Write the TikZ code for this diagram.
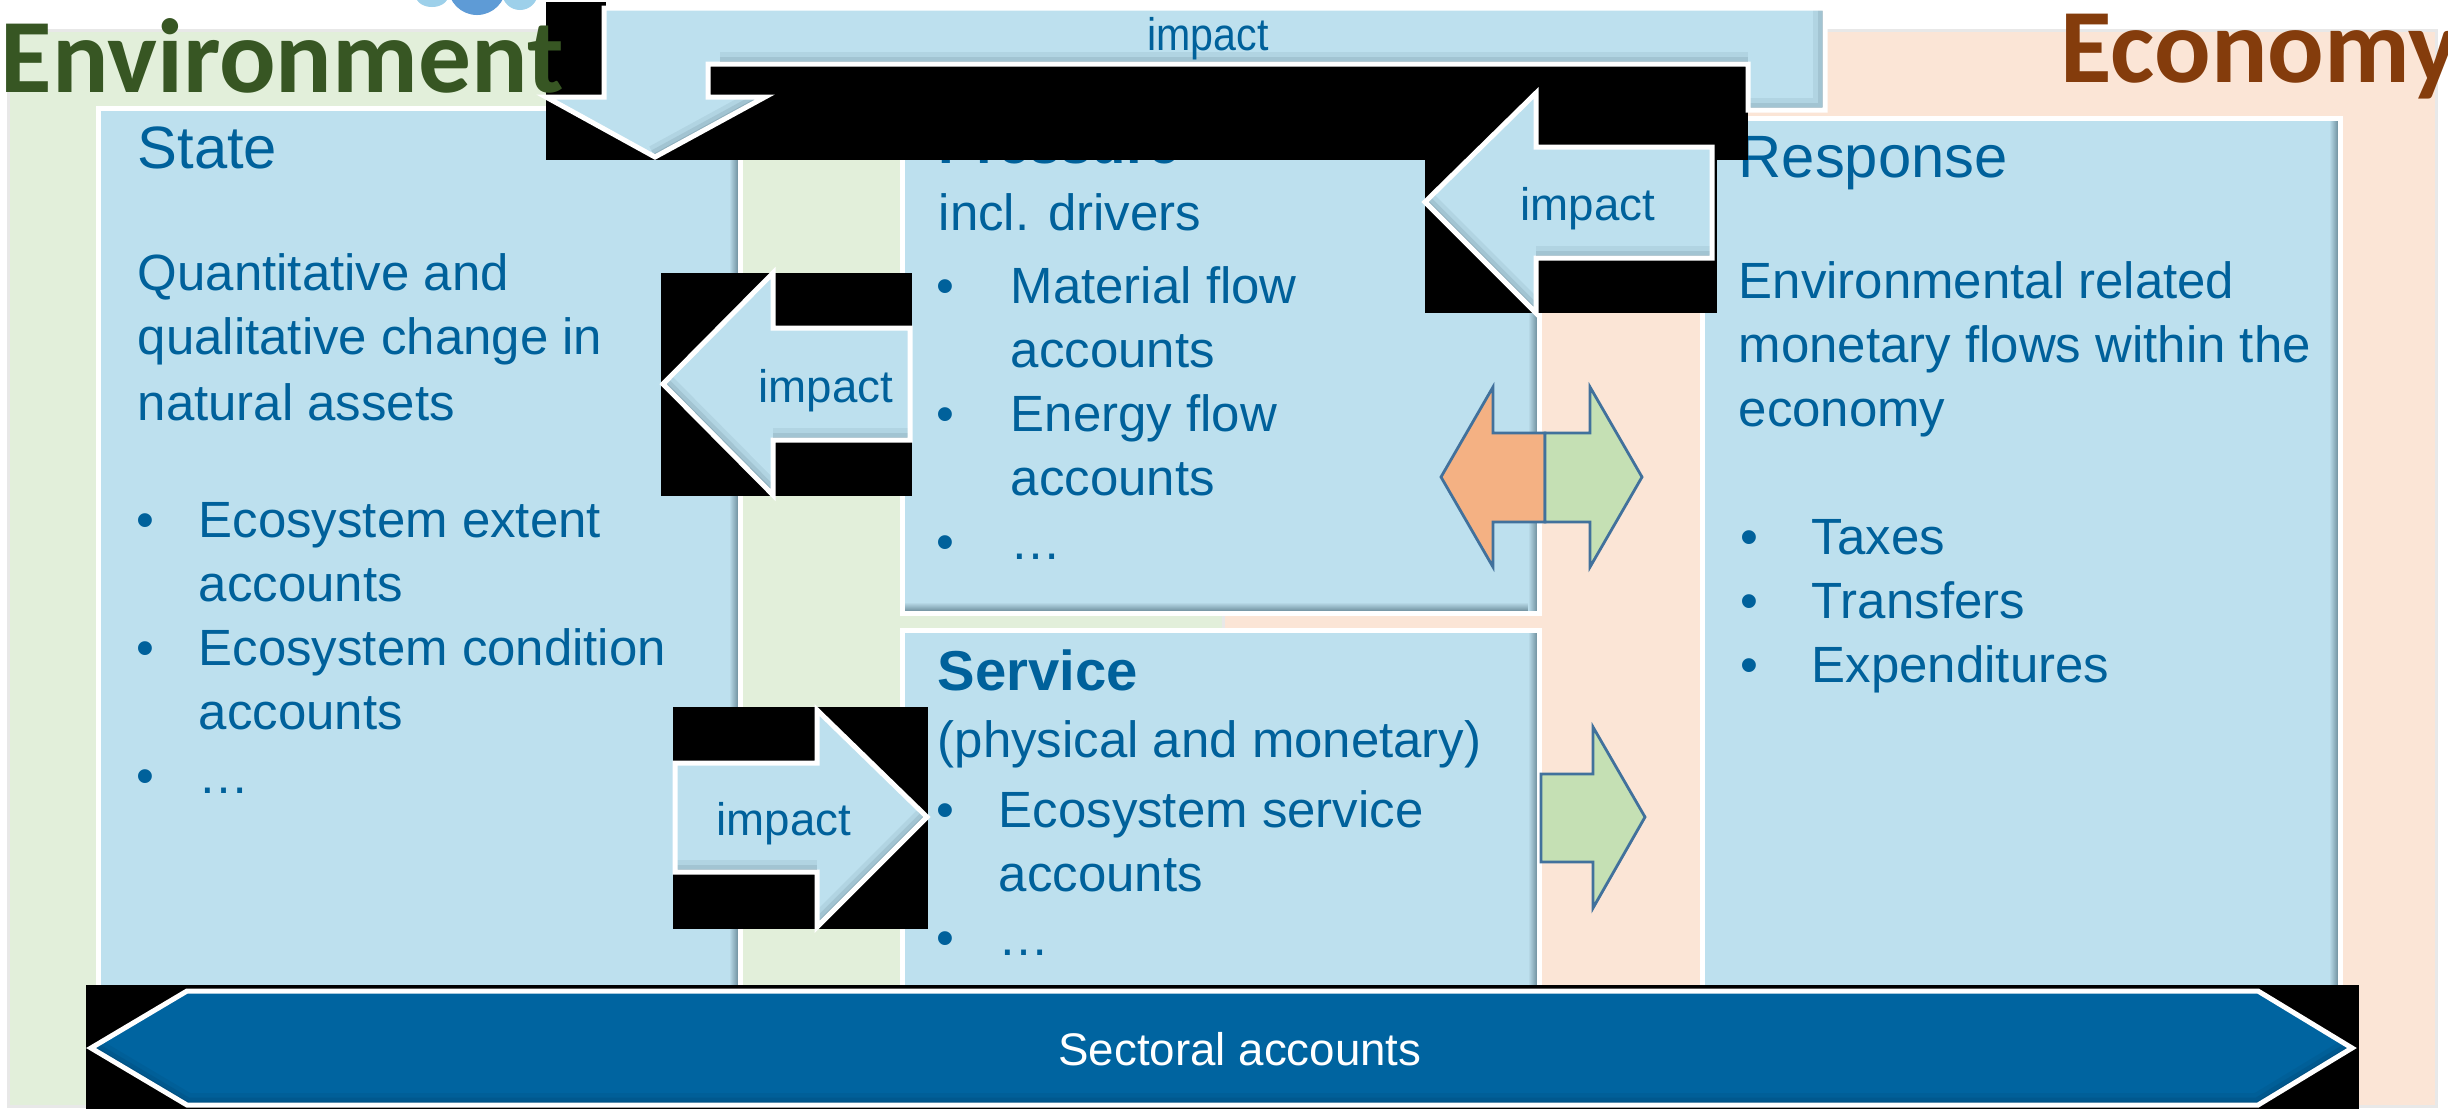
\documentclass[tikz,border=0pt]{standalone}
\usepackage{fontspec}
\setmainfont{Liberation Sans}
\newfontfamily\calfont{Carlito}
\usetikzlibrary{fit}
\definecolor{boxblue}{HTML}{BDE0EE}
\definecolor{txtblue}{HTML}{00619B}
\definecolor{envgreen}{HTML}{E2EFDA}
\definecolor{ecopeach}{HTML}{FBE5D6}
\definecolor{shadowc}{HTML}{5F7E8C}
\definecolor{secblue}{HTML}{0064A0}
\definecolor{secdark}{HTML}{003D63}
\definecolor{orangeA}{HTML}{F4B183}
\definecolor{greenA}{HTML}{C5E0B4}
\definecolor{outlineA}{HTML}{41719C}
\definecolor{envtitle}{HTML}{375623}
\definecolor{ecotitle}{HTML}{843C0C}
\definecolor{blobLight}{HTML}{9DD0EA}
\definecolor{blobMid}{HTML}{5E9BD6}
\newcommand\edgeshade[2]{%
  \draw[#1, line width=2.4mm, opacity=.12] #2;
  \draw[#1, line width=1.5mm, opacity=.18] #2;
  \draw[#1, line width=0.7mm, opacity=.3] #2;}
\begin{document}
\begin{tikzpicture}[x=0.1mm,y=-0.1mm,
  tx/.style={font=\fontsize{14.5}{18}\selectfont, text=txtblue, inner sep=0pt, anchor=base west},
  bul/.style={font=\fontsize{14.5}{18}\selectfont, text=txtblue, inner sep=0pt, anchor=base},
  hd/.style={font=\fontsize{17}{20}\selectfont, text=txtblue, inner sep=0pt, anchor=base west},
  hdb/.style={font=\fontsize{16}{20}\selectfont\bfseries, text=txtblue, inner sep=0pt, anchor=base west},
  lbl/.style={font=\fontsize{13}{16}\selectfont, text=txtblue, inner sep=0pt, anchor=base},
  title/.style={font=\calfont\bfseries\fontsize{30}{36}\selectfont, inner sep=0pt, anchor=base west},
  panel/.style={draw=black!9, line width=0.3mm},
  boxframe/.style={draw=white, line width=0.5mm, inner sep=0pt},
  blockarrow/.style={draw=white, line width=0.5mm, line join=miter},
  blackbox/.style={fill=black},
  flowarrow/.style={draw=outlineA, line width=0.28mm, line join=miter}
]
\useasboundingbox (0,0) rectangle (2448,1109);
\clip (0,0) rectangle (2448,1109);
\fill[white] (0,0) rectangle (2448,1109);

% partial icon at the top edge
\fill[blobLight] (432,-4) ellipse [x radius=16, y radius=11];
\fill[blobLight] (520,-8) circle [radius=18];
\fill[blobMid] (477,-14) circle [radius=29];

% background panels
\path[panel, fill=envgreen] (8,30) rectangle (1223,1106);
\path[panel, fill=ecopeach] (1223,30) rectangle (2436,1106);

% boxes
\fill[boxblue] (98,108) rectangle (740,1000);
\shade[left color=boxblue, right color=shadowc] (729,108) rectangle (740,1000);
\node[boxframe, fit={(98,108) (740,1000)}] (state) {};

\fill[boxblue] (902,150) rectangle (1539,613);
\shade[top color=boxblue, bottom color=shadowc] (902,602) rectangle (1539,613);
\shade[left color=boxblue, right color=shadowc] (1528,150) rectangle (1539,613);
\node[boxframe, fit={(902,150) (1539,613)}] (pressure) {};

\fill[boxblue] (902,630) rectangle (1539,1000);
\shade[left color=boxblue, right color=shadowc] (1528,630) rectangle (1539,1000);
\node[boxframe, fit={(902,630) (1539,1000)}] (service) {};

\fill[boxblue] (1702,118) rectangle (2340,1000);
\shade[left color=boxblue, right color=shadowc] (2329,118) rectangle (2340,1000);
\node[boxframe, fit={(1702,118) (2340,1000)}] (response) {};

% State texts
\node[hd] (stateH) at (137,168) {State};
\node[tx] (st1) at (137,290) {Quantitative and};
\node[tx] (st2) at (137,354) {qualitative change in};
\node[tx] (st3) at (137,420) {natural assets};
\node[bul] (sb1) at (145,537) {•};
\node[tx] (st4) at (198,537) {Ecosystem extent};
\node[tx] (st5) at (198,601) {accounts};
\node[bul] (sb2) at (145,665) {•};
\node[tx] (st6) at (198,665) {Ecosystem condition};
\node[tx] (st7) at (198,729) {accounts};
\node[bul] (sb3) at (145,793) {•};
\node[tx] (st8) at (198,793) {…};

% Pressure texts
\node[hdb] (presH) at (938,163) {Pressure};
\node[tx] (pr1) at (938,230) {incl. drivers};
\node[bul] (pb1) at (945,303) {•};
\node[tx] (pr2) at (1010,303) {Material flow};
\node[tx] (pr3) at (1010,367) {accounts};
\node[bul] (pb2) at (945,431) {•};
\node[tx] (pr4) at (1010,431) {Energy flow};
\node[tx] (pr5) at (1010,495) {accounts};
\node[bul] (pb3) at (945,559) {•};
\node[tx] (pr6) at (1010,559) {…};

% Service texts
\node[hdb] (servH) at (937,690) {Service};
\node[tx] (sv1) at (937,757) {(physical and monetary)};
\node[bul] (vb1) at (945,827) {•};
\node[tx] (sv2) at (998,827) {Ecosystem service};
\node[tx] (sv3) at (998,891) {accounts};
\node[bul] (vb2) at (945,955) {•};
\node[tx] (sv4) at (998,955) {…};

% Response texts
\node[hd] (respH) at (1738,177) {Response};
\node[tx] (rs1) at (1738,298) {Environmental related};
\node[tx] (rs2) at (1738,362) {monetary flows within the};
\node[tx] (rs3) at (1738,426) {economy};
\node[bul] (rb1) at (1749,554) {•};
\node[tx] (rs4) at (1811,554) {Taxes};
\node[bul] (rb2) at (1749,618) {•};
\node[tx] (rs5) at (1811,618) {Transfers};
\node[bul] (rb3) at (1749,682) {•};
\node[tx] (rs6) at (1811,682) {Expenditures};

% top bent impact arrow
\fill[blackbox] (546,2) rectangle (606,160);
\fill[blackbox] (546,60) rectangle (1748,160);
\fill[boxblue] (604,8) -- (1825,8) -- (1825,110) -- (1748,110) -- (1748,64) -- (708,64) -- (708,97) -- (765,97) -- (655,157) -- (546,97) -- (604,97) -- cycle;
\begin{scope}
\clip (604,8) -- (1825,8) -- (1825,110) -- (1748,110) -- (1748,64) -- (708,64) -- (708,97) -- (765,97) -- (655,157) -- (546,97) -- (604,97) -- cycle;
\edgeshade{shadowc}{(720,64) -- (1748,64)}
\edgeshade{shadowc}{(1825,8) -- (1825,110) -- (1748,110)}
\edgeshade{shadowc}{(765,97) -- (655,157)}
\end{scope}
\draw[blockarrow] (604,8) -- (1825,8) -- (1825,110) -- (1748,110) -- (1748,64) -- (708,64) -- (708,97) -- (765,97) -- (655,157) -- (546,97) -- (604,97) -- cycle;
\node[lbl] (impTop) at (1208,50) {\scalebox{0.9}[1]{impact}};

% right impact arrow (Response -> Pressure)
\fill[blackbox] (1425,93) rectangle (1717,313);
\fill[boxblue] (1425,202) -- (1536,93) -- (1536,147) -- (1712,147) -- (1712,258) -- (1536,258) -- (1536,313) -- cycle;
\begin{scope}
\clip (1425,202) -- (1536,93) -- (1536,147) -- (1712,147) -- (1712,258) -- (1536,258) -- (1536,313) -- cycle;
\edgeshade{shadowc}{(1536,258) -- (1712,258)}
\edgeshade{shadowc}{(1425,202) -- (1536,313)}
\end{scope}
\draw[blockarrow] (1425,202) -- (1536,93) -- (1536,147) -- (1712,147) -- (1712,258) -- (1536,258) -- (1536,313) -- cycle;
\node[lbl] (impR) at (1588,220) {impact};

% left impact arrow (Pressure -> State)
\fill[blackbox] (661,273) rectangle (912,496);
\fill[boxblue] (663,384) -- (773,273) -- (773,328) -- (910,328) -- (910,440) -- (773,440) -- (773,495) -- cycle;
\begin{scope}
\clip (663,384) -- (773,273) -- (773,328) -- (910,328) -- (910,440) -- (773,440) -- (773,495) -- cycle;
\edgeshade{shadowc}{(773,440) -- (910,440)}
\edgeshade{shadowc}{(663,384) -- (773,495)}
\end{scope}
\draw[blockarrow] (663,384) -- (773,273) -- (773,328) -- (910,328) -- (910,440) -- (773,440) -- (773,495) -- cycle;
\node[lbl] (impL) at (826,402) {impact};

% bottom-left impact arrow (State -> Service)
\fill[blackbox] (673,707) rectangle (928,929);
\fill[boxblue] (675,763) -- (817,763) -- (817,710) -- (927,817) -- (817,927) -- (817,872) -- (675,872) -- cycle;
\begin{scope}
\clip (675,763) -- (817,763) -- (817,710) -- (927,817) -- (817,927) -- (817,872) -- (675,872) -- cycle;
\edgeshade{shadowc}{(675,872) -- (817,872)}
\edgeshade{shadowc}{(927,817) -- (817,927)}
\end{scope}
\draw[blockarrow] (675,763) -- (817,763) -- (817,710) -- (927,817) -- (817,927) -- (817,872) -- (675,872) -- cycle;
\node[lbl] (impB) at (784,835) {impact};

% double arrow and single arrow
\filldraw[flowarrow, fill=orangeA] (1441,477) -- (1493,387) -- (1493,433) -- (1545,433) -- (1545,522) -- (1493,522) -- (1493,567) -- cycle;
\filldraw[flowarrow, fill=greenA] (1545,433) -- (1590,433) -- (1590,387) -- (1642,477) -- (1590,567) -- (1590,522) -- (1545,522) -- cycle;
\filldraw[flowarrow, fill=greenA] (1541,774) -- (1593,774) -- (1593,727) -- (1645,817) -- (1593,908) -- (1593,862) -- (1541,862) -- cycle;

% sectoral accounts arrow
\fill[blackbox] (86,985) rectangle (2359,1109);
\fill[secblue] (91,1048) -- (187,991) -- (2258,991) -- (2352,1048) -- (2258,1105) -- (187,1105) -- cycle;
\begin{scope}
\clip (91,1048) -- (187,991) -- (2258,991) -- (2352,1048) -- (2258,1105) -- (187,1105) -- cycle;
\edgeshade{secdark}{(91,1048) -- (187,1105) -- (2258,1105) -- (2352,1048)}
\end{scope}
\draw[blockarrow] (91,1048) -- (187,991) -- (2258,991) -- (2352,1048) -- (2258,1105) -- (187,1105) -- cycle;
\node[font=\fontsize{13}{16}\selectfont, text=white, inner sep=0pt, anchor=base] (sect) at (1240,1065) {Sectoral accounts};

% titles
\node[title, text=envtitle] (envT) at (0,92) {Environment};
\node[title, text=ecotitle] (ecoT) at (2060,82) {Economy};
\end{tikzpicture}
\end{document}
